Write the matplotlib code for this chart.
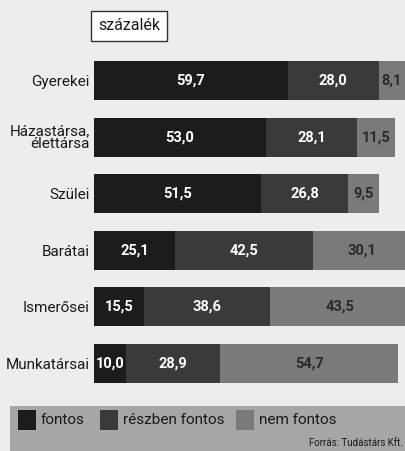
import matplotlib
matplotlib.use("Agg")
import matplotlib.pyplot as plt
from matplotlib.patches import Rectangle

plt.rcParams['font.family'] = ['Roboto', 'DejaVu Sans']

categories = ["Gyerekei", "Házastársa,\nélettársa", "Szülei", "Barátai", "Ismerősei", "Munkatársai"]
fontos = [59.7, 53.0, 51.5, 25.1, 15.5, 10.0]
reszben = [28.0, 28.1, 26.8, 42.5, 38.6, 28.9]
nem = [8.1, 11.5, 9.5, 30.1, 43.5, 54.7]
series_names = ["fontos", "részben fontos", "nem fontos"]
colors = ["#1c1c1c", "#3a3a3a", "#7a7a7a"]
text_colors = ["white", "white", "#2a2a2a"]

W, H = 405, 451
fig = plt.figure(figsize=(W / 100, H / 100), dpi=100)
fig.patch.set_facecolor("#ededed")

ax = fig.add_axes([94 / W, 1 - 391.8 / H, 1 - 94 / W, (391.8 - 52.2) / H])
ax.set_facecolor("none")
ax.set_xlim(0, 95.8)
ax.set_ylim(5.5, -0.5)
for s in ax.spines.values():
    s.set_visible(False)
ax.set_xticks([])
ax.set_yticks(range(len(categories)))
ax.set_yticklabels(categories, fontsize=11, linespacing=0.85, color="#1a1a1a")
ax.tick_params(axis="y", length=0, pad=3)
for lbl in ax.get_yticklabels():
    lbl.set_multialignment("right")

ys = list(range(len(categories)))
left = [0] * len(categories)
for vals, col, tc in zip([fontos, reszben, nem], colors, text_colors):
    ax.barh(ys, vals, left=left, height=0.69, color=col, edgecolor="none")
    for y, v, l in zip(ys, vals, left):
        ax.text(l + v / 2, y, f"{v:.1f}".replace(".", ","), ha="center", va="center",
                color=tc, fontsize=10.5, fontweight="bold")
    left = [a + b for a, b in zip(left, vals)]

# "százalék" box
fig.text(129 / W, 1 - 26 / H, "százalék", ha="center", va="center", fontsize=11.5,
         color="#1a1a1a",
         bbox=dict(boxstyle="square,pad=0.45", facecolor="white", edgecolor="#333333", linewidth=1))

# legend band
fig.patches.append(Rectangle((10 / W, 0), 1 - 10 / W, (H - 406) / H, transform=fig.transFigure,
                             facecolor="#a6a6a6", edgecolor="none", zorder=0))
leg_x = [18, 100, 236]
for x, name, col in zip(leg_x, series_names, colors):
    fig.patches.append(Rectangle((x / W, 1 - 430 / H), 18 / W, 20 / H, transform=fig.transFigure,
                                 facecolor=col, edgecolor="none", zorder=1))
    fig.text((x + 23) / W, 1 - 420 / H, name, ha="left", va="center", fontsize=11, color="#1a1a1a")

fig.text(403 / W, 1 - 443 / H, "Forrás: Tudástárs Kft.", ha="right", va="center", fontsize=7,
         color="#1a1a1a")

fig.savefig("out.png", dpi=100, facecolor=fig.get_facecolor())
